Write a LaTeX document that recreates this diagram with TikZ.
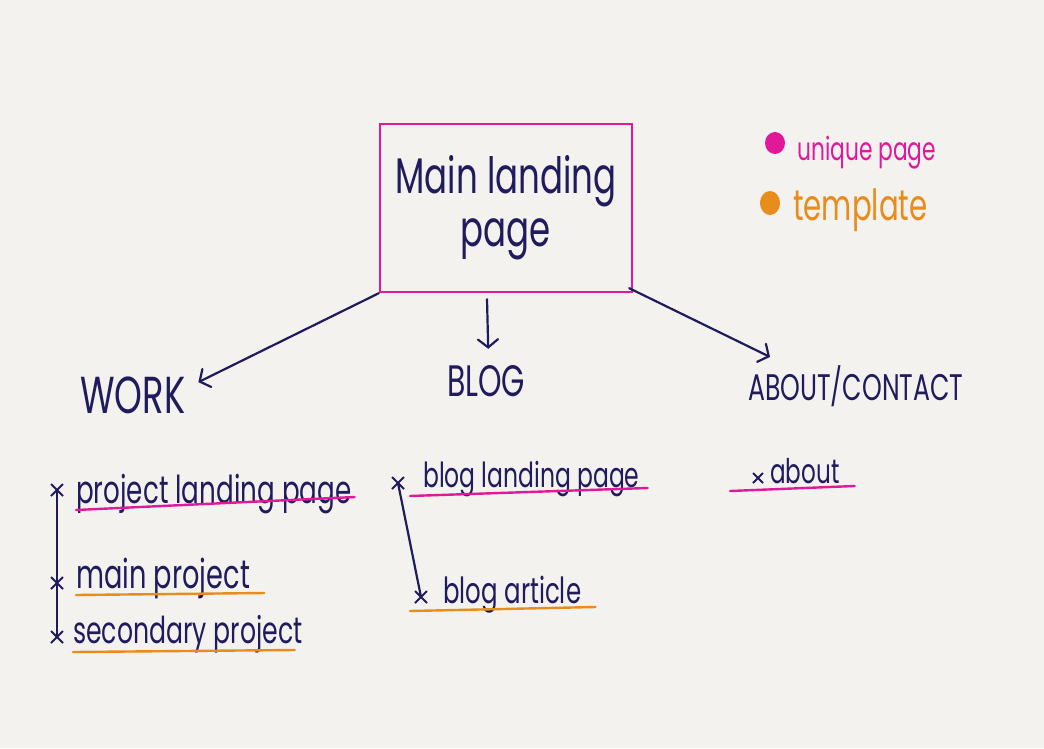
\documentclass[tikz,border=0pt]{standalone}
\usepackage{fontspec}
\usetikzlibrary{arrows.meta,shapes.misc}
\newfontfamily\hand[FakeStretch=0.68]{Poppins}
\definecolor{ink}{HTML}{1F1B5C}
\definecolor{mag}{HTML}{E0189A}
\definecolor{org}{HTML}{E88C1C}
\definecolor{paper}{HTML}{F4F2EE}
\newcommand{\fs}[1]{\fontsize{#1}{1.1\dimexpr #1pt\relax}\selectfont}
\begin{document}
\begin{tikzpicture}[x=1pt,y=-1pt,
  txt/.style={anchor=base west,inner sep=0pt,text=ink,font=\hand},
  arr/.style={draw=ink,line width=2.2pt,line cap=round,-{Straight Barb[length=8pt,width=20pt,line cap=round]}},
  inkline/.style={draw=ink,line width=2.2pt,line cap=round},
  magline/.style={draw=mag,line width=2.4pt,line cap=round},
  orgline/.style={draw=org,line width=2.4pt,line cap=round},
  xmark/.style={cross out,draw=ink,line width=2pt,minimum size=10pt,inner sep=0pt},
  pagebox/.style={draw=mag,line width=2.4pt,minimum width=252pt,minimum height=168pt,align=center,text=ink,font=\hand\fontsize{50}{55}\selectfont}
]
\fill[paper] (0,0) rectangle (1044,748);
\useasboundingbox (0,0) rectangle (1044,748);

% main box
\node[pagebox] (box) at (506,208) {Main landing\\[-2pt]page\hspace{0.6em}};

% section headings
\node[txt,font=\hand\fs{52}] (work) at (80,413) {WORK};
\node[txt,font=\hand\fs{44}] (blog) at (447,396) {BLOG};
\node[txt,font=\hand\fs{37}] (about) at (748,400) {ABOUT/CONTACT};

% arrows
\draw[arr] (box.south west) -- ([xshift=13pt,yshift=-6pt]work.north east);
\draw[arr] ([xshift=-19pt,yshift=-6pt]box.south) -- ([xshift=2pt,yshift=16pt]blog.north);
\draw[arr] ([xshift=-4pt,yshift=5pt]box.south east) -- ([xshift=22pt,yshift=8pt]about.north west);

% WORK items
\node[txt,font=\hand\fs{38.5}] (plp) at (76,503) {project landing page};
\node[txt,font=\hand\fs{40}] (mp) at (76,588) {main project};
\node[txt,font=\hand\fs{37}] (sp) at (73,643) {secondary project};
\node[xmark] (w1) at (57,490) {};
\node[xmark] (w2) at (57,583) {};
\node[xmark] (w3) at (57,637) {};
\draw[inkline] (w1.center) -- (w2.center) -- (w3.center);
\draw[magline] ([yshift=-7pt]plp.base west) -- ([xshift=3pt,yshift=6pt]plp.base east);
\draw[orgline] ([yshift=-7pt]mp.base west) -- ([xshift=14pt,yshift=-5pt]mp.base east);
\draw[orgline] ([yshift=-9pt]sp.base west) -- ([xshift=-8pt,yshift=-7pt]sp.base east);

% BLOG items
\node[txt,font=\hand\fs{34.5}] (blp) at (423,487) {blog landing page};
\node[txt,font=\hand\fs{36}] (ba) at (443,603) {blog article};
\node[xmark] (b1) at (398,483) {};
\node[xmark] (b2) at (421,597) {};
\draw[inkline] (b1.center) -- (b2.center);
\draw[magline] ([xshift=-13pt,yshift=-9pt]blp.base west) -- ([xshift=8pt,yshift=-1pt]blp.base east);
\draw[orgline] ([xshift=-33pt,yshift=-8pt]ba.base west) -- ([xshift=14pt,yshift=-4pt]ba.base east);

% ABOUT items
\node[txt,font=\hand\fs{34}] (ab) at (770,483) {about};
\node[xmark,minimum size=8pt] (a1) at (758,478) {};
\draw[magline] ([xshift=-40pt,yshift=-8pt]ab.base west) -- ([xshift=15pt,yshift=-3pt]ab.base east);

% legend
\fill[mag] (775,143) ellipse [x radius=10pt,y radius=11pt];
\fill[org] (770,203) ellipse [x radius=10pt,y radius=12pt];
\node[txt,text=mag,font=\hand\fs{32}] (lu) at (797,160) {unique page};
\node[txt,text=org,font=\hand\fs{43}] (lt) at (793,220) {template};
\end{tikzpicture}
\end{document}
